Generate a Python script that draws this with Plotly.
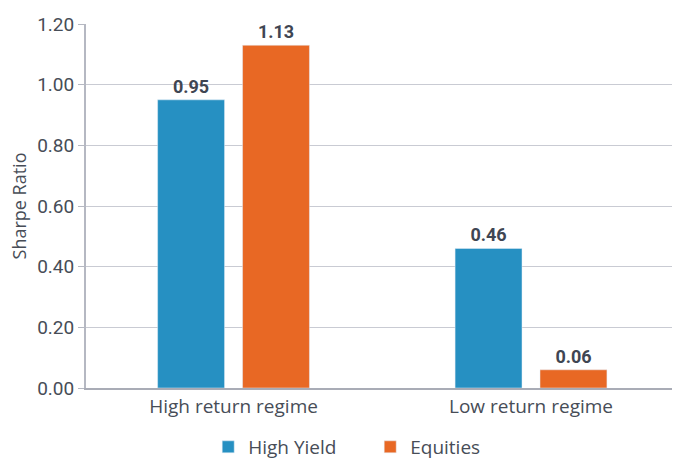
import plotly.graph_objects as go

categories = ["High return regime", "Low return regime"]
high_yield = [0.95, 0.46]
equities = [1.13, 0.06]
tick_vals = [0, 0.2, 0.4, 0.6, 0.8, 1.0, 1.2]
tick_text = ["0.00", "0.20", "0.40", "0.60", "0.80", "1.00", "1.20"]

text_color = "#474d57"
label_font = dict(family="Roboto", size=18, color="#3f4653")

fig = go.Figure()
fig.add_trace(go.Bar(
    name="High Yield", x=categories, y=high_yield,
    marker=dict(color="#2690c2"),
    text=[f"<b>{v:.2f}</b>" for v in high_yield],
    textposition="outside", textfont=label_font, cliponaxis=False,
))
fig.add_trace(go.Bar(
    name="Equities", x=categories, y=equities,
    marker=dict(color="#e86824"),
    text=[f"<b>{v:.2f}</b>" for v in equities],
    textposition="outside", textfont=label_font, cliponaxis=False,
))

fig.update_layout(
    width=674, height=459,
    margin=dict(l=86, r=2, t=24, b=71, autoexpand=False),
    paper_bgcolor="white", plot_bgcolor="white",
    barmode="group", bargap=0.429, bargroupgap=0.212,
    font=dict(family="Open Sans", size=16, color=text_color),
    showlegend=True,
    legend=dict(orientation="h", x=0.485, xanchor="center",
                y=-0.162, yanchor="middle",
                font=dict(family="Open Sans", size=19, color=text_color),
                itemwidth=30, entrywidth=117, entrywidthmode="pixels",
                traceorder="normal"),
    uniformtext=dict(mode=False),
)
fig.update_yaxes(
    range=[0, 1.2], tickvals=tick_vals, ticktext=tick_text,
    tickfont=dict(family="Roboto", size=19, color=text_color),
    showgrid=True, gridcolor="#c9cbd3", gridwidth=1,
    showline=True, linecolor="#b5b8c2", linewidth=2,
    ticks="outside", ticklen=6, tickcolor="#b5b8c2",
    zeroline=False,
    title=dict(text="Sharpe Ratio", font=dict(family="Open Sans", size=18, color=text_color), standoff=6),
)
fig.update_xaxes(
    range=[-0.496, 1.474],
    showline=True, linecolor="#a9acb6", linewidth=2,
    tickfont=dict(family="Open Sans", size=19, color=text_color),
    ticks="", showgrid=False,
)

fig.write_html("out.html")
